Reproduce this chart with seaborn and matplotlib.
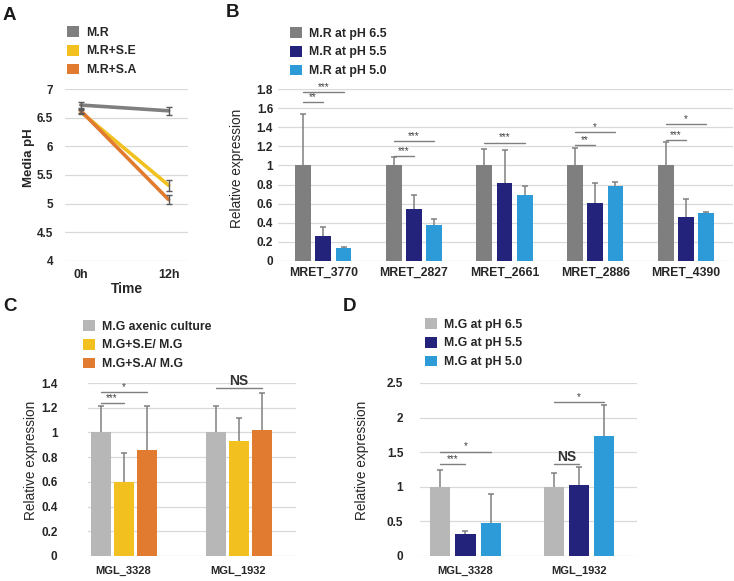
import numpy as np
import pandas as pd
import seaborn as sns
import matplotlib.pyplot as plt
from matplotlib.patches import Patch

sns.set_theme(style="whitegrid")
plt.rcParams['font.family'] = ['Liberation Sans', 'DejaVu Sans']

# ---- data ----
# A: media pH
times = ["0h", "12h"]
a_groups = ["M.R", "M.R+S.E", "M.R+S.A"]
a_vals = [[6.72, 6.62], [6.60, 5.32], [6.62, 5.07]]
a_err = [[0.05, 0.07], [0.03, 0.10], [0.03, 0.08]]

# B: MRET genes at pH
b_genes = ["MRET_3770", "MRET_2827", "MRET_2661", "MRET_2886", "MRET_4390"]
b_conds = ["M.R at pH 6.5", "M.R at pH 5.5", "M.R at pH 5.0"]
b_vals = [[1.0, 1.0, 1.0, 1.0, 1.0],
          [0.26, 0.54, 0.82, 0.61, 0.46],
          [0.14, 0.38, 0.69, 0.79, 0.50]]
b_err = [[0.54, 0.09, 0.17, 0.18, 0.25],
         [0.10, 0.15, 0.34, 0.21, 0.19],
         [0.01, 0.06, 0.09, 0.04, 0.01]]
# (gene index, compared hue index, line height, label)
b_sig = [(0, 1, 1.66, "**"), (0, 2, 1.77, "***"),
         (1, 1, 1.10, "***"), (1, 2, 1.26, "***"),
         (2, 2, 1.24, "***"),
         (3, 1, 1.21, "**"), (3, 2, 1.35, "*"),
         (4, 1, 1.27, "***"), (4, 2, 1.43, "*")]

# C: MGL genes in co-culture
c_genes = ["MGL_3328", "MGL_1932"]
c_conds = ["M.G axenic culture", "M.G+S.E/ M.G", "M.G+S.A/ M.G"]
c_vals = [[1.0, 1.0], [0.60, 0.93], [0.86, 1.02]]
c_err = [[0.21, 0.21], [0.23, 0.19], [0.35, 0.30]]
c_sig = [(0, 1, 1.24, "***"), (0, 2, 1.33, "*"), (1, 2, 1.36, "NS")]

# D: MGL genes at pH
d_genes = ["MGL_3328", "MGL_1932"]
d_conds = ["M.G at pH 6.5", "M.G at pH 5.5", "M.G at pH 5.0"]
d_vals = [[1.0, 1.0], [0.32, 1.03], [0.48, 1.73]]
d_err = [[0.25, 0.20], [0.04, 0.25], [0.42, 0.45]]
d_sig = [(0, 1, 1.33, "***"), (0, 2, 1.51, "*"), (1, 1, 1.33, "NS"), (1, 2, 2.23, "*")]

GRAY = "#7f7f7f"
LGRAY = "#b7b7b7"
NAVY = "#23237b"
LBLUE = "#2e9bd9"
YELLOW = "#f2c11f"
ORANGE = "#e07b30"

fig = plt.figure(figsize=(7.34, 5.81), dpi=100)
W, H = 734, 581


def px_axes(x0, y0, x1, y1):
    return fig.add_axes([x0 / W, 1 - y1 / H, (x1 - x0) / W, (y1 - y0) / H])


def style_axes(ax, ticks, ypad, xpad, xsize):
    sns.despine(ax=ax, left=True, bottom=True)
    ax.set_axisbelow(True)
    ax.xaxis.grid(False)
    ax.yaxis.grid(True, color="#d9d9d9", lw=0.9)
    ax.set_yticks(ticks)
    ax.set_yticklabels([f"{t:g}" for t in np.round(ticks, 2)])
    ax.tick_params(axis="y", length=0, pad=ypad, labelsize=8.5)
    ax.tick_params(axis="x", length=0, pad=xpad, labelsize=xsize)
    for lab in ax.get_xticklabels() + ax.get_yticklabels():
        lab.set_fontweight("bold")
        lab.set_color("#262626")


def add_legend(ax, labels, colors, x, y):
    handles = [Patch(facecolor=c, edgecolor="none") for c in colors]
    ax.legend(handles, labels, loc="upper left", bbox_to_anchor=(x / W, 1 - y / H),
              bbox_transform=fig.transFigure, frameon=False, borderpad=0,
              borderaxespad=0, handlelength=1.0, handleheight=1.0,
              handletextpad=0.55, labelspacing=0.5,
              prop={"weight": "bold", "size": 8.8})


def bar_panel(ax, genes, conds, vals, errs, sig, palette, width, gap):
    df = pd.DataFrame({
        "gene": np.tile(genes, len(conds)),
        "cond": np.repeat(conds, len(genes)),
        "value": np.concatenate(vals),
    })
    sns.barplot(data=df, x="gene", y="value", hue="cond", hue_order=conds,
                palette=palette, width=width, gap=gap, saturation=1,
                errorbar=None, linewidth=0, legend=False, ax=ax)
    centers = []
    for cont, e in zip(ax.containers, errs):
        xs = [b.get_x() + b.get_width() / 2 for b in cont]
        ys = [b.get_height() for b in cont]
        centers.append(xs)
        eb = ax.errorbar(xs, ys, yerr=[np.zeros(len(e)), e], fmt="none",
                         ecolor="#808080", elinewidth=1.1, capsize=2.2, capthick=1.1)
        # only the upper cap is drawn in the original
        eb[1][0].set_visible(False)
    for g, h, y, lab in sig:
        x0, x1 = centers[0][g], centers[h][g]
        ax.plot([x0, x1], [y, y], color="#7f7f7f", lw=1)
        if lab == "NS":
            ax.text((x0 + x1) / 2, y, lab, ha="center", va="bottom",
                    fontsize=10, fontweight="bold", color="#333333")
        else:
            ax.text((x0 + x1) / 2, y, lab, ha="center", va="bottom",
                    fontsize=7, color="#404040")
    ax.set_xlabel("")
    return centers


# ---- Panel A ----
axA = px_axes(65, 89, 188, 261)
a_df = pd.DataFrame({
    "time": times * len(a_groups),
    "group": np.repeat(a_groups, len(times)),
    "ph": np.concatenate(a_vals),
})
a_pal = [GRAY, YELLOW, ORANGE]
sns.lineplot(data=a_df, x="time", y="ph", hue="group", hue_order=a_groups,
             palette=a_pal, lw=2.6, legend=False, ax=axA, sort=False)
for vals, errs in zip(a_vals, a_err):
    axA.errorbar(times, vals, yerr=errs, fmt="none", ecolor="#595959",
                 elinewidth=1, capsize=2, capthick=1)
axA.set_xlim(-0.18, 1.22)
axA.set_ylim(4, 7)
style_axes(axA, np.arange(4, 7.01, 0.5), 8.6, 5.5, 9)
axA.set_ylabel("Media pH", fontsize=9.5, fontweight="bold", color="#262626")
axA.yaxis.set_label_coords(-0.245, 0.6)
axA.set_xlabel("Time", fontsize=10, fontweight="bold", color="#262626", labelpad=1)
add_legend(axA, a_groups, a_pal, 67, 26)

# ---- Panel B ----
axB = px_axes(278, 89, 733, 261)
bar_panel(axB, b_genes, b_conds, b_vals, b_err, b_sig, [GRAY, NAVY, LBLUE], 0.67, 0.22)
axB.set_xlim(-0.5, 4.52)
axB.set_ylim(0, 1.8)
style_axes(axB, np.arange(0, 1.81, 0.2), 3.6, 4, 8.8)
axB.set_ylabel("Relative expression", fontsize=9.8, color="#262626")
axB.yaxis.set_label_coords(-0.074, 0.54)
add_legend(axB, b_conds, [GRAY, NAVY, LBLUE], 290, 27)

# ---- Panel C ----
axC = px_axes(88, 383, 296, 556)
bar_panel(axC, c_genes, c_conds, c_vals, c_err, c_sig, [LGRAY, YELLOW, ORANGE], 0.6, 0.13)
axC.set_xlim(-0.31, 1.5)
axC.set_ylim(0, 1.4)
style_axes(axC, np.arange(0, 1.41, 0.2), 22, 7, 8)
axC.set_ylabel("Relative expression", fontsize=9.8, color="#262626")
axC.yaxis.set_label_coords(-0.24, 0.554)
add_legend(axC, c_conds, [LGRAY, YELLOW, ORANGE], 83, 320)

# ---- Panel D ----
axD = px_axes(420, 383, 637, 556)
bar_panel(axD, d_genes, d_conds, d_vals, d_err, d_sig, [LGRAY, NAVY, LBLUE], 0.667, 0.2)
axD.set_xlim(-0.4, 1.51)
axD.set_ylim(0, 2.5)
style_axes(axD, np.arange(0, 2.51, 0.5), 12, 7, 8)
axD.set_ylabel("Relative expression", fontsize=9.8, color="#262626")
axD.yaxis.set_label_coords(-0.235, 0.554)
add_legend(axD, d_conds, [LGRAY, NAVY, LBLUE], 425, 318)

# panel letters
for lab, x, y in [("A", 3, 7), ("B", 226, 4), ("C", 3, 298), ("D", 343, 298)]:
    fig.text(x / W, 1 - y / H, lab, fontsize=13.5, fontweight="bold",
             ha="left", va="top", color="#1a1a1a")

fig.savefig("out.png", dpi=100)
